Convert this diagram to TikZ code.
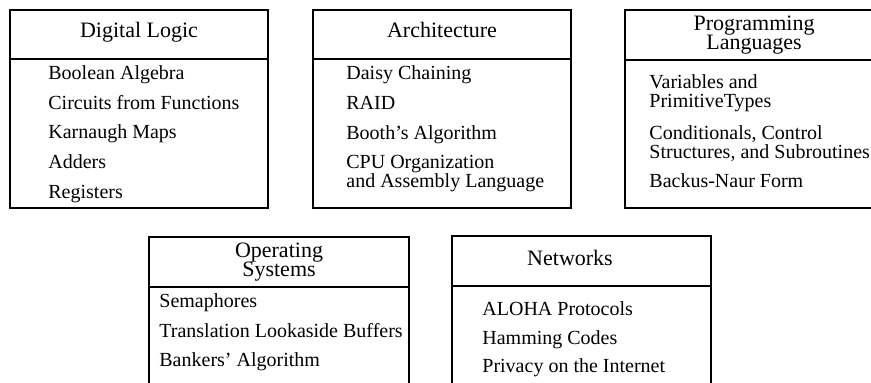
\documentclass[tikz,border=0pt]{standalone}
\usepackage{fontspec}
\setmainfont{Liberation Serif}
\tikzset{
	topic/.style={anchor=base, inner sep=0pt, align=center, font=\fontsize{11}{9.8}\selectfont},
	entry/.style={anchor=base west, inner sep=0pt, align=left, font=\fontsize{10}{9.6}\selectfont},
	frame/.style={line width=0.6pt}
}
\begin{document}
\begin{tikzpicture}[x=0.5pt, y=-0.5pt]
		\useasboundingbox (0,0) rectangle (871,383);
		\clip (0,0) rectangle (871,383);

		% Digital Logic
		\draw[frame] (10,10) rectangle (268,208);
		\draw[frame] (10,59) -- (268,59);
		\node[topic] (dltitle) at (139,38) {Digital Logic};
		\node[entry] (dlbool) at (48,79.5) {Boolean Algebra};
		\node[entry] (dlcirc) at (48,109.3) {Circuits from Functions};
		\node[entry] (dlkmap) at (48,139) {Karnaugh Maps};
		\node[entry] (dladd) at (48,168.8) {Adders};
		\node[entry] (dlreg) at (48,198.5) {Registers};

		% Architecture
		\draw[frame] (313,10) rectangle (571,208);
		\draw[frame] (313,59) -- (571,59);
		\node[topic] (artitle) at (442,38) {Architecture};
		\node[entry] (ardaisy) at (346,79.5) {Daisy Chaining};
		\node[entry] (arraid) at (346,109.3) {RAID};
		\node[entry] (arbooth) at (346,139.2) {Booth's Algorithm};
		% base = last line
		\node[entry] (arcpu) at (346,187.8) {CPU Organization\\and Assembly Language};

		% Programming Languages
		\draw[frame] (625,10) rectangle (883,208);
		\draw[frame] (625,60) -- (883,60);
		\node[topic] (pltitle) at (754,50) {Programming\\Languages};
		\node[entry] (plvar) at (649,107.5) {Variables and\\PrimitiveTypes};
		\node[entry] (plcond) at (649,159) {Conditionals, Control\\Structures, and Subroutines};
		\node[entry] (plbnf) at (649,188) {Backus-Naur Form};

		% Operating Systems
		\draw[frame] (149,237) rectangle (409,400);
		\draw[frame] (149,287) -- (409,287);
		\node[topic] (ostitle) at (279,277) {Operating\\Systems};
		\node[entry] (ossem) at (159,308) {Semaphores};
		\node[entry] (ostlb) at (159,337.5) {Translation Lookaside Buffers};
		\node[entry] (osbank) at (159,367) {Bankers' Algorithm};

		% Networks
		\draw[frame] (452,236) rectangle (711,400);
		\draw[frame] (452,286) -- (711,286);
		\node[topic] (nettitle) at (570,266) {Networks};
		\node[entry] (netaloha) at (482,316) {ALOHA Protocols};
		\node[entry] (netham) at (482,345) {Hamming Codes};
		\node[entry] (netpriv) at (482,373) {Privacy on the Internet};
	\end{tikzpicture}
\end{document}
